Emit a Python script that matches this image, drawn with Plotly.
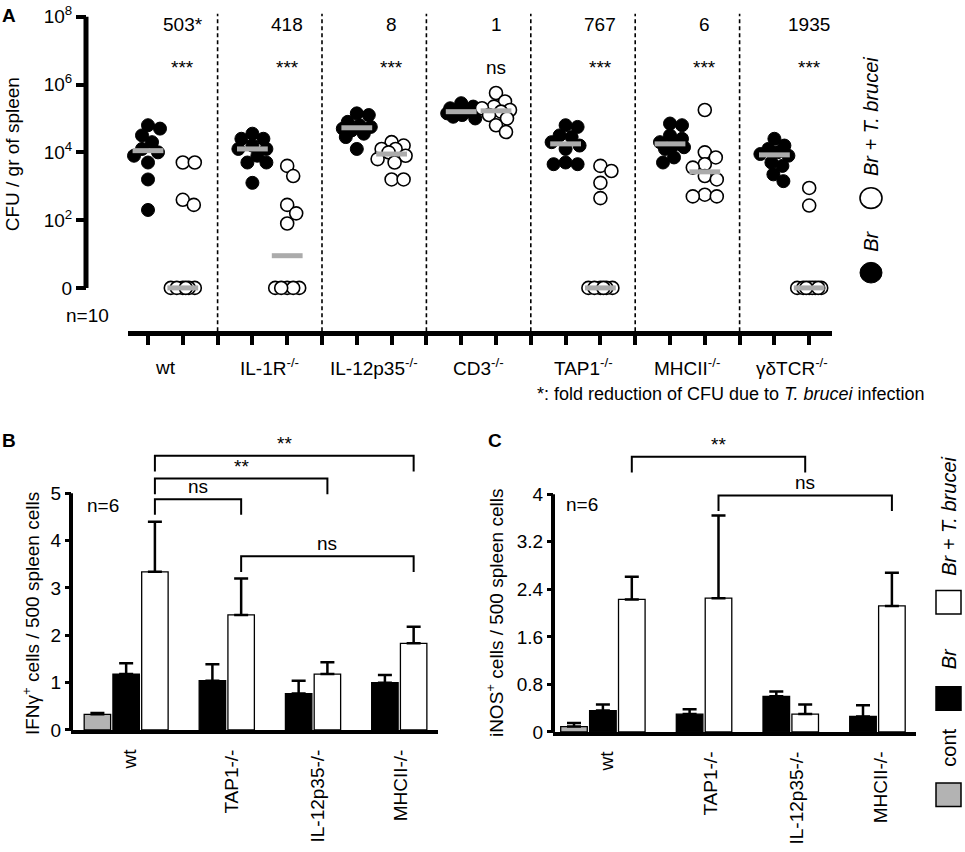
import numpy as np
import plotly.graph_objects as go

W, H = 965, 852
def px(x): return x / W
def py(y): return 1 - y / H

FONT = "Liberation Sans, Arial, sans-serif"

# ---------------- Panel A data (log10 CFU / g spleen; 0 = below detection) -------------
groups_A = ["wt", "IL-1R<sup>-/-</sup>", "IL-12p35<sup>-/-</sup>", "CD3<sup>-/-</sup>",
            "TAP1<sup>-/-</sup>", "MHCII<sup>-/-</sup>", "γδTCR<sup>-/-</sup>"]
fold_A = ["503*", "418", "8", "1", "767", "6", "1935"]
sig_A = ["***", "***", "***", "ns", "***", "***", "***"]

br_wt     = [4.8, 4.7, 4.5, 4.3, 4.1, 4.0, 3.9, 3.7, 3.2, 2.3]
brt_wt    = [3.7, 3.7, 2.6, 2.45, 0, 0, 0, 0, 0, 0]
br_il1r   = [4.55, 4.4, 4.4, 4.2, 4.1, 4.1, 3.9, 3.7, 3.7, 3.1]
brt_il1r  = [3.6, 3.3, 2.45, 2.2, 1.9, 0, 0, 0, 0, 0]
br_il12   = [5.15, 5.1, 4.9, 4.8, 4.75, 4.7, 4.65, 4.55, 4.45, 4.1]
brt_il12  = [4.3, 4.2, 4.1, 4.1, 4.0, 3.9, 3.8, 3.7, 3.2, 3.2]
br_cd3    = [5.45, 5.35, 5.3, 5.25, 5.2, 5.2, 5.15, 5.1, 5.05, 5.0]
brt_cd3   = [5.75, 5.5, 5.35, 5.3, 5.25, 5.2, 5.1, 5.0, 4.8, 4.6]
br_tap1   = [4.8, 4.75, 4.5, 4.45, 4.3, 4.2, 4.1, 3.7, 3.65, 3.65]
brt_tap1  = [3.6, 3.45, 3.1, 2.65, 0, 0, 0, 0, 0, 0]
br_mhcii  = [4.85, 4.8, 4.5, 4.4, 4.3, 4.2, 4.15, 4.1, 3.85, 3.7]
brt_mhcii = [5.25, 4.0, 3.85, 3.65, 3.55, 3.3, 3.2, 2.75, 2.7, 2.7]
br_gdtcr  = [4.4, 4.2, 4.1, 4.0, 3.95, 3.9, 3.7, 3.6, 3.35, 3.15]
brt_gdtcr = [2.95, 2.43, 0, 0, 0, 0, 0, 0, 0, 0]

br_A = [br_wt, br_il1r, br_il12, br_cd3, br_tap1, br_mhcii, br_gdtcr]
brt_A = [brt_wt, brt_il1r, brt_il12, brt_cd3, brt_tap1, brt_mhcii, brt_gdtcr]

# ---------------- Panel B / C data (mean + SEM) ----------------
groups_BC = ["wt", "TAP1-/-", "IL-12p35-/-", "MHCII-/-"]
ifng_cont, ifng_cont_err = [0.33], [0.03]
ifng_br = [1.18, 1.04, 0.77, 1.00]
ifng_br_err = [0.23, 0.35, 0.27, 0.16]
ifng_brt = [3.34, 2.43, 1.18, 1.83]
ifng_brt_err = [1.06, 0.77, 0.25, 0.35]

inos_cont, inos_cont_err = [0.09], [0.06]
inos_br = [0.36, 0.30, 0.60, 0.26]
inos_br_err = [0.10, 0.08, 0.08, 0.19]
inos_brt = [2.23, 2.25, 0.30, 2.12]
inos_brt_err = [0.38, 1.39, 0.16, 0.56]

# comparisons: (label, group i, group j, bracket height)
comp_B = [("ns", 0, 1, 4.875), ("**", 0, 2, 5.31), ("**", 0, 3, 5.79), ("ns", 1, 3, 3.67)]
comp_C = [("**", 0, 2, 4.63), ("ns", 1, 3, 3.98)]

fig = go.Figure()

# ---------------- geometry ----------------
A_x0px, A_xscale = 148, 34.8          # x=1 at 148 px
A_y0px, A_yscale = 289, 34.5          # log 0 at 289 px
A_dom_x = [128, 832]
A_dom_y = [4, 333]
B_dom_x, B_slot0, B_slot = [71, 438], 97.4, 28.75
C_dom_x, C_slot0, C_slot = [553, 916], 574.0, 28.9
B_dom_y, B_zero, B_scale = [440, 739], 739, 48.2
C_dom_y, C_zero, C_scale = [440, 741], 741, 60.5


def swarm(vals, diam=13.0, maxoff=14, step=1.0):
    vals = np.asarray(vals, float)
    order = np.argsort(-vals)
    placed, offs = [], np.zeros(len(vals))
    cands = [0.0]
    k = 1
    while k * step <= maxoff:
        cands += [k * step, -k * step]
        k += 1
    for i in order:
        yv = vals[i] * A_yscale
        best, bestd = 0.0, -1.0
        for c in cands:
            d = min([np.hypot(c - ox, yv - oy) for ox, oy in placed], default=1e9)
            if d >= diam * 0.92:
                best, bestd = c, d
                break
            if d > bestd + 1e-6:
                best, bestd = c, d
        placed.append((best, yv))
        offs[i] = best / A_xscale
    return offs


for g in range(len(groups_A)):
    for k, (vals, filled) in enumerate([(br_A[g], True), (brt_A[g], False)]):
        base = 3 * g + 1 + k
        offs = swarm(vals)
        fig.add_trace(go.Scatter(
            x=base + offs, y=vals, mode="markers", xaxis="x", yaxis="y",
            showlegend=False, hoverinfo="skip", cliponaxis=False,
            marker=dict(size=13, color="black" if filled else "white",
                        line=dict(color="black", width=1 if filled else 1.6))))

med_x, med_y = [], []
for g in range(len(groups_A)):
    med_x += [3 * g + 1, 3 * g + 2]
    med_y += [float(np.median(br_A[g])), float(np.median(brt_A[g]))]
fig.add_trace(go.Scatter(x=med_x, y=med_y, mode="markers", xaxis="x", yaxis="y",
                         showlegend=False, hoverinfo="skip", cliponaxis=False,
                         marker=dict(symbol="line-ew", size=22,
                                     line=dict(color="#ababab", width=5))))

# ---------------- bars B and C ----------------
def add_bars(xa, ya, cont, cont_err, br, br_err, brt, brt_err):
    n = len(br)
    specs = [([0], cont, cont_err, "#b3b3b3"),
             ([3 * i + 1 for i in range(n)], br, br_err, "black"),
             ([3 * i + 2 for i in range(n)], brt, brt_err, "white")]
    for xs, ys, es, col in specs:
        fig.add_trace(go.Bar(
            x=xs, y=ys, width=0.92, xaxis=xa, yaxis=ya, showlegend=False,
            hoverinfo="skip", marker=dict(color=col, line=dict(color="black", width=1.3)),
            error_y=dict(type="data", array=es, arrayminus=[0] * len(es), symmetric=False,
                         color="black", thickness=2.5, width=7)))

add_bars("x2", "y2", ifng_cont, ifng_cont_err, ifng_br, ifng_br_err, ifng_brt, ifng_brt_err)
add_bars("x3", "y3", inos_cont, inos_cont_err, inos_br, inos_br_err, inos_brt, inos_brt_err)

shapes, annos = [], []

def note(x, y, text, size=19, xref="paper", yref="paper", angle=0, **kw):
    d = dict(x=x, y=y, xref=xref, yref=yref, text=text, showarrow=False,
             xanchor="center", yanchor="middle", textangle=angle,
             font=dict(size=size, color="black"))
    d.update(kw)
    annos.append(d)

def brackets(comps, xref, yref, leg):
    for lab, i, j, h in comps:
        xi, xj = 3 * i + 2, 3 * j + 2
        shapes.append(dict(type="path", xref=xref, yref=yref,
                           path=f"M {xi} {h - leg} L {xi} {h} L {xj} {h} L {xj} {h - leg}",
                           line=dict(color="black", width=2)))
        note((xi + xj) / 2, h, lab, xref=xref, yref=yref, yanchor="bottom")

brackets(comp_B, "x2", "y2", 16 / B_scale)
brackets(comp_C, "x3", "y3", 16 / C_scale)

# y-axis lines (drawn only over the data range)
shapes.append(dict(type="line", xref="paper", yref="y", x0=px(86), x1=px(86), y0=0, y1=8,
                   line=dict(color="black", width=5)))
shapes.append(dict(type="line", xref="paper", yref="y2", x0=px(71), x1=px(71), y0=0, y1=5,
                   line=dict(color="black", width=4)))
shapes.append(dict(type="line", xref="paper", yref="y3", x0=px(553), x1=px(553), y0=0, y1=4,
                   line=dict(color="black", width=4)))

# dashed separators in panel A
for g in range(len(groups_A) - 1):
    shapes.append(dict(type="line", xref="x", yref="paper", x0=3 * g + 3, x1=3 * g + 3,
                       y0=py(333), y1=py(10), line=dict(color="black", width=1.6, dash="4px,3px")))

# panel A texts
for g in range(len(groups_A)):
    note(3 * g + 2, py(21), fold_A[g], xref="x")
    note(3 * g + 2, py(65), sig_A[g], xref="x")
    note(3 * g + 1.5, py(370), groups_A[g], xref="x")

note(px(927), py(397), "*: fold reduction of CFU due to <i>T. brucei</i> infection",
     size=18, xanchor="right")
note(px(87), py(317), "n=10")
note(px(12), py(153), "CFU / gr of spleen", angle=-90)
note(px(9), py(12), "<b>A</b>")
note(px(9), py(444), "<b>B</b>")
note(px(495), py(444), "<b>C</b>")
note(px(31), py(621), "IFNγ<sup>+</sup> cells / 500 spleen cells", angle=-90)
note(px(495), py(620), "iNOS<sup>+</sup> cells / 500 spleen cells", angle=-90)
note(px(103), py(510), "n=6")
note(px(582), py(509), "n=6")
# legend A
note(px(871), py(242), "<i>Br</i>", size=20, angle=-90)
note(px(871), py(115), "<i>Br + T. brucei</i>", size=20, angle=-90)
# legend B/C
note(px(949), py(757), "cont", size=20, angle=-90)
note(px(949), py(667), "<i>Br</i>", size=20, angle=-90)
note(px(949), py(522), "<i>Br + T. brucei</i>", size=20, angle=-90)

# legend symbols
shapes += [
    dict(type="circle", xref="paper", yref="paper", x0=px(860), x1=px(882),
         y0=py(284), y1=py(263), fillcolor="black", line=dict(color="black", width=1)),
    dict(type="circle", xref="paper", yref="paper", x0=px(860), x1=px(882),
         y0=py(208), y1=py(187), fillcolor="white", line=dict(color="black", width=1.6)),
    dict(type="rect", xref="paper", yref="paper", x0=px(936), x1=px(961),
         y0=py(817), y1=py(793), fillcolor="#b3b3b3", line=dict(color="black", width=1.5)),
    dict(type="rect", xref="paper", yref="paper", x0=px(936), x1=px(961),
         y0=py(719), y1=py(695), fillcolor="black", line=dict(color="black", width=1.5)),
    dict(type="rect", xref="paper", yref="paper", x0=px(936), x1=px(961),
         y0=py(621), y1=py(597), fillcolor="white", line=dict(color="black", width=1.5)),
]

axis_common = dict(showgrid=False, zeroline=False, color="black",
                   tickfont=dict(size=19, color="black"), ticklabeloverflow="allow")

fig.update_layout(
    width=W, height=H, margin=dict(l=0, r=0, t=0, b=0),
    paper_bgcolor="white", plot_bgcolor="rgba(0,0,0,0)",
    font=dict(family=FONT, color="black"),
    barmode="overlay", showlegend=False,
    shapes=shapes, annotations=annos,
    xaxis=dict(domain=[px(A_dom_x[0]), px(A_dom_x[1])],
               range=[1 - (A_x0px - A_dom_x[0]) / A_xscale, 1 + (A_dom_x[1] - A_x0px) / A_xscale],
               showline=True, linewidth=5, linecolor="black", ticks="outside",
               tickvals=list(range(1, 21)), ticklen=9, tickwidth=3.5, tickcolor="black",
               showticklabels=False, anchor="y", **axis_common),
    yaxis=dict(domain=[py(A_dom_y[1]), py(A_dom_y[0])],
               range=[-(A_dom_y[1] - A_y0px) / A_yscale, (A_y0px - A_dom_y[0]) / A_yscale],
               anchor="free", position=px(86), showline=False, ticks="outside",
               tickvals=[0, 2, 4, 6, 8],
               ticktext=["0", "10<sup>2</sup>", "10<sup>4</sup>", "10<sup>6</sup>", "10<sup>8</sup>"],
               ticklen=10, tickwidth=3.5, tickcolor="black", **axis_common),
    xaxis2=dict(domain=[px(B_dom_x[0]), px(B_dom_x[1])],
                range=[(B_dom_x[0] - B_slot0) / B_slot, (B_dom_x[1] - B_slot0) / B_slot],
                showline=True, linewidth=4, linecolor="black", ticks="",
                tickvals=[1.13, 4.68, 7.68, 10.55], ticktext=groups_BC, tickangle=-90,
                anchor="y2", ticklabelstandoff=8, **axis_common),
    yaxis2=dict(domain=[py(B_dom_y[1]), py(B_dom_y[0])],
                range=[0, (B_zero - B_dom_y[0]) / B_scale],
                anchor="free", position=px(71), showline=False, ticks="outside",
                tickvals=[0, 1, 2, 3, 4, 5], ticklen=6, tickwidth=3, tickcolor="black",
                **axis_common),
    xaxis3=dict(domain=[px(C_dom_x[0]), px(C_dom_x[1])],
                range=[(C_dom_x[0] - C_slot0) / C_slot, (C_dom_x[1] - C_slot0) / C_slot],
                showline=True, linewidth=4, linecolor="black", ticks="",
                tickvals=[1.13, 4.75, 7.72, 10.62], ticktext=groups_BC, tickangle=-90,
                anchor="y3", ticklabelstandoff=8, **axis_common),
    yaxis3=dict(domain=[py(C_dom_y[1]), py(C_dom_y[0])],
                range=[0, (C_zero - C_dom_y[0]) / C_scale],
                anchor="free", position=px(553), showline=False, ticks="outside",
                tickvals=[0, 0.8, 1.6, 2.4, 3.2, 4], ticktext=["0", "0.8", "1.6", "2.4", "3.2", "4"],
                ticklen=6, tickwidth=3, tickcolor="black", **axis_common),
)

fig.write_html("out.html", config={"displayModeBar": False},
               post_script="document.body.style.margin='0px';")
